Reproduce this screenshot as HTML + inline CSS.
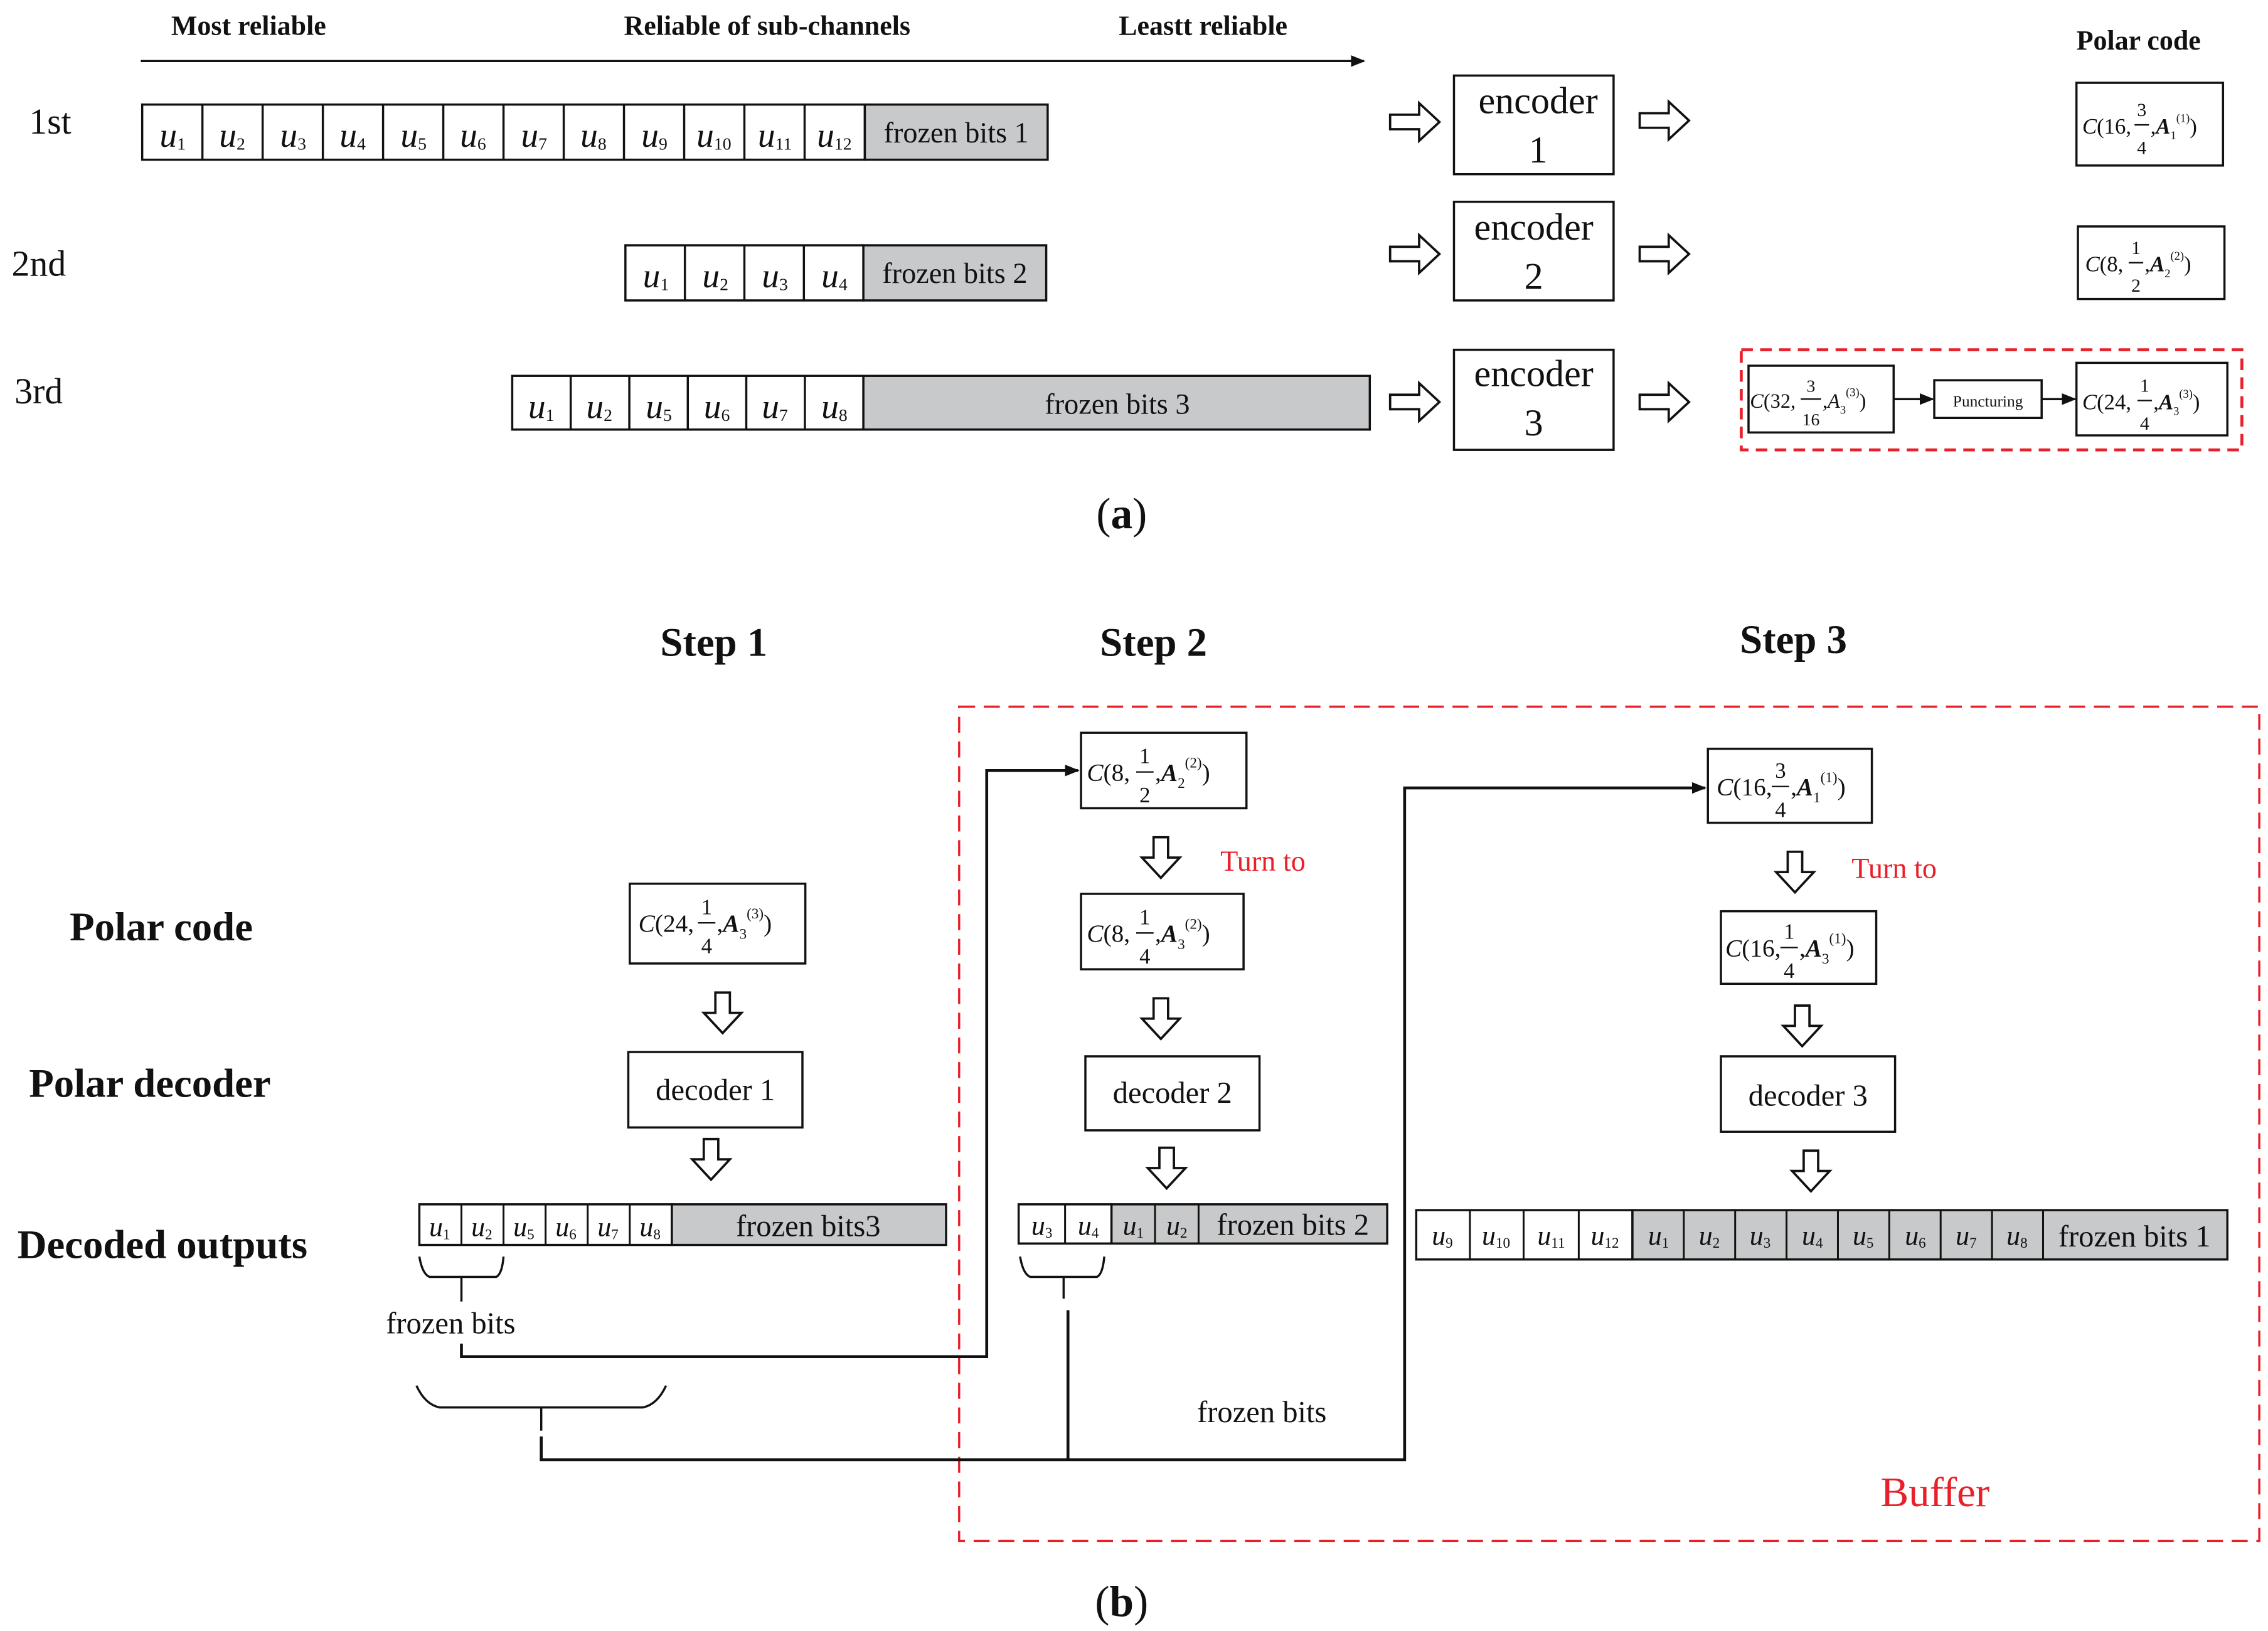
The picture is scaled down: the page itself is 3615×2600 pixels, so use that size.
<!DOCTYPE html>
<html><head><meta charset="utf-8"><style>
html,body{margin:0;padding:0;background:#fff}
svg{display:block}
text{font-family:"Liberation Serif",serif;fill:#111}
.b{font-family:"Liberation Serif",serif;font-weight:bold}
</style></head><body>
<svg width="3615" height="2600" viewBox="0 0 1563 1124" xmlns="http://www.w3.org/2000/svg">
<defs>
<marker id="ar" markerWidth="10" markerHeight="10" refX="9" refY="5" orient="auto" markerUnits="userSpaceOnUse"><path d="M0,1 L10,5 L0,9 z" fill="#111"/></marker>
<g id="ra"><polygon points="0,-5 20,-5 20,-13 34,0 20,13 20,5 0,5" fill="#fff" stroke="#111" stroke-width="1.6"/></g>
<g id="da"><polygon points="-5,0 5,0 5,14 13,14 0,28 -13,14 -5,14" fill="#fff" stroke="#111" stroke-width="1.6"/></g>
</defs>
<rect width="1563" height="1124" fill="#fff"/>

<text x="118" y="24" class="b" font-size="19">Most reliable</text>
<text x="430" y="24" class="b" font-size="19">Reliable of sub-channels</text>
<text x="771" y="24" class="b" font-size="19">Leastt reliable</text>
<line x1="97" y1="42" x2="940" y2="42" stroke="#111" stroke-width="1.5" marker-end="url(#ar)"/>
<text x="1431" y="34" class="b" font-size="19">Polar  code</text>
<text x="20" y="92" font-size="25">1st</text>
<text x="8" y="190" font-size="25">2nd</text>
<text x="10" y="278" font-size="25">3rd</text>

<g stroke="#111" stroke-width="1.5">
<rect x="98" y="72" width="498" height="38" fill="#fff"/>
<rect x="596" y="72" width="126" height="38" fill="#c8c9cb"/>
<line x1="139.5" y1="72" x2="139.5" y2="110"/><line x1="181" y1="72" x2="181" y2="110"/><line x1="222.5" y1="72" x2="222.5" y2="110"/><line x1="264" y1="72" x2="264" y2="110"/><line x1="305.5" y1="72" x2="305.5" y2="110"/><line x1="347" y1="72" x2="347" y2="110"/><line x1="388.5" y1="72" x2="388.5" y2="110"/><line x1="430" y1="72" x2="430" y2="110"/><line x1="471.5" y1="72" x2="471.5" y2="110"/><line x1="513" y1="72" x2="513" y2="110"/><line x1="554.5" y1="72" x2="554.5" y2="110"/>
<rect x="431" y="169" width="164" height="38" fill="#fff"/>
<rect x="595" y="169" width="126" height="38" fill="#c8c9cb"/>
<line x1="472" y1="169" x2="472" y2="207"/><line x1="513" y1="169" x2="513" y2="207"/><line x1="554" y1="169" x2="554" y2="207"/>
<rect x="353" y="259" width="242" height="37" fill="#fff"/>
<rect x="595" y="259" width="349" height="37" fill="#c8c9cb"/>
<line x1="393.3" y1="259" x2="393.3" y2="296"/><line x1="433.7" y1="259" x2="433.7" y2="296"/><line x1="474" y1="259" x2="474" y2="296"/><line x1="514.3" y1="259" x2="514.3" y2="296"/><line x1="554.7" y1="259" x2="554.7" y2="296"/>
<rect x="1002" y="52" width="110" height="68" fill="#fff"/>
<rect x="1002" y="139" width="110" height="68" fill="#fff"/>
<rect x="1002" y="241" width="110" height="69" fill="#fff"/>
<rect x="1431" y="57" width="101" height="57" fill="#fff"/>
<rect x="1432" y="156" width="101" height="50" fill="#fff"/>
<rect x="1205" y="252" width="100" height="46" fill="#fff"/>
<rect x="1333" y="262" width="74" height="26" fill="#fff"/>
<rect x="1431" y="250" width="104" height="50" fill="#fff"/>
<line x1="1305" y1="275" x2="1332" y2="275" marker-end="url(#ar)"/>
<line x1="1407" y1="275" x2="1430" y2="275" marker-end="url(#ar)"/>
</g>
<rect x="1200" y="241" width="345" height="69" fill="none" stroke="#e8202a" stroke-width="2" stroke-dasharray="8,5"/>

<g font-size="24">
<text x="119" y="101" text-anchor="middle"><tspan font-style="italic">u</tspan><tspan font-size="12" dy="2">1</tspan></text>
<text x="160" y="101" text-anchor="middle"><tspan font-style="italic">u</tspan><tspan font-size="12" dy="2">2</tspan></text>
<text x="202" y="101" text-anchor="middle"><tspan font-style="italic">u</tspan><tspan font-size="12" dy="2">3</tspan></text>
<text x="243" y="101" text-anchor="middle"><tspan font-style="italic">u</tspan><tspan font-size="12" dy="2">4</tspan></text>
<text x="285" y="101" text-anchor="middle"><tspan font-style="italic">u</tspan><tspan font-size="12" dy="2">5</tspan></text>
<text x="326" y="101" text-anchor="middle"><tspan font-style="italic">u</tspan><tspan font-size="12" dy="2">6</tspan></text>
<text x="368" y="101" text-anchor="middle"><tspan font-style="italic">u</tspan><tspan font-size="12" dy="2">7</tspan></text>
<text x="409" y="101" text-anchor="middle"><tspan font-style="italic">u</tspan><tspan font-size="12" dy="2">8</tspan></text>
<text x="451" y="101" text-anchor="middle"><tspan font-style="italic">u</tspan><tspan font-size="12" dy="2">9</tspan></text>
<text x="492" y="101" text-anchor="middle"><tspan font-style="italic">u</tspan><tspan font-size="12" dy="2">10</tspan></text>
<text x="534" y="101" text-anchor="middle"><tspan font-style="italic">u</tspan><tspan font-size="12" dy="2">11</tspan></text>
<text x="575" y="101" text-anchor="middle"><tspan font-style="italic">u</tspan><tspan font-size="12" dy="2">12</tspan></text>
<text x="452" y="198" text-anchor="middle"><tspan font-style="italic">u</tspan><tspan font-size="12" dy="2">1</tspan></text>
<text x="493" y="198" text-anchor="middle"><tspan font-style="italic">u</tspan><tspan font-size="12" dy="2">2</tspan></text>
<text x="534" y="198" text-anchor="middle"><tspan font-style="italic">u</tspan><tspan font-size="12" dy="2">3</tspan></text>
<text x="575" y="198" text-anchor="middle"><tspan font-style="italic">u</tspan><tspan font-size="12" dy="2">4</tspan></text>
<text x="373" y="288" text-anchor="middle"><tspan font-style="italic">u</tspan><tspan font-size="12" dy="2">1</tspan></text>
<text x="413" y="288" text-anchor="middle"><tspan font-style="italic">u</tspan><tspan font-size="12" dy="2">2</tspan></text>
<text x="454" y="288" text-anchor="middle"><tspan font-style="italic">u</tspan><tspan font-size="12" dy="2">5</tspan></text>
<text x="494" y="288" text-anchor="middle"><tspan font-style="italic">u</tspan><tspan font-size="12" dy="2">6</tspan></text>
<text x="534" y="288" text-anchor="middle"><tspan font-style="italic">u</tspan><tspan font-size="12" dy="2">7</tspan></text>
<text x="575" y="288" text-anchor="middle"><tspan font-style="italic">u</tspan><tspan font-size="12" dy="2">8</tspan></text>
</g>
<text x="659" y="98" font-size="20" text-anchor="middle">frozen bits 1</text>
<text x="658" y="195" font-size="20" text-anchor="middle">frozen bits 2</text>
<text x="770" y="285" font-size="20" text-anchor="middle">frozen bits 3</text>

<g font-size="26" text-anchor="middle">
<text x="1060" y="78">encoder</text><text x="1060" y="112">1</text>
<text x="1057" y="165">encoder</text><text x="1057" y="199">2</text>
<text x="1057" y="266">encoder</text><text x="1057" y="300">3</text>
</g>
<use href="#ra" x="958" y="84"/><use href="#ra" x="1130" y="83"/>
<use href="#ra" x="958" y="175"/><use href="#ra" x="1130" y="175"/>
<use href="#ra" x="958" y="277"/><use href="#ra" x="1130" y="277"/>

<g font-size="15">
<text x="1435" y="92"><tspan font-style="italic">C</tspan>(16,</text>
<text x="1476" y="80" text-anchor="middle" font-size="13">3</text><line x1="1471" y1="86" x2="1481" y2="86" stroke="#111"/><text x="1476" y="106" text-anchor="middle" font-size="13">4</text>
<text x="1482" y="92">,<tspan font-weight="bold" font-style="italic">A</tspan><tspan font-size="8" dy="4">1</tspan><tspan font-size="8" dy="-12">(1)</tspan><tspan dy="8">)</tspan></text>

<text x="1437" y="187"><tspan font-style="italic">C</tspan>(8,</text>
<text x="1472" y="175" text-anchor="middle" font-size="13">1</text><line x1="1467" y1="181" x2="1477" y2="181" stroke="#111"/><text x="1472" y="201" text-anchor="middle" font-size="13">2</text>
<text x="1478" y="187">,<tspan font-weight="bold" font-style="italic">A</tspan><tspan font-size="8" dy="4">2</tspan><tspan font-size="8" dy="-12">(2)</tspan><tspan dy="8">)</tspan></text>

<text x="1206" y="281" font-size="14"><tspan font-style="italic">C</tspan>(32,</text>
<text x="1248" y="270" text-anchor="middle" font-size="12">3</text><line x1="1241" y1="275" x2="1255" y2="275" stroke="#111"/><text x="1248" y="293" text-anchor="middle" font-size="12">16</text>
<text x="1256" y="281" font-size="14">,<tspan font-style="italic">A</tspan><tspan font-size="8" dy="4">3</tspan><tspan font-size="8" dy="-12">(3)</tspan><tspan dy="8">)</tspan></text>
<text x="1370" y="280" text-anchor="middle" font-size="11">Puncturing</text>
<text x="1435" y="282"><tspan font-style="italic">C</tspan>(24,</text>
<text x="1478" y="270" text-anchor="middle" font-size="13">1</text><line x1="1473" y1="276" x2="1483" y2="276" stroke="#111"/><text x="1478" y="296" text-anchor="middle" font-size="13">4</text>
<text x="1484" y="282">,<tspan font-weight="bold" font-style="italic">A</tspan><tspan font-size="8" dy="4">3</tspan><tspan font-size="8" dy="-12">(3)</tspan><tspan dy="8">)</tspan></text>
</g>
<text x="773" y="364" font-size="30" text-anchor="middle">(<tspan font-weight="bold">a</tspan>)</text>

<text x="455" y="452" class="b" font-size="28">Step 1</text>
<text x="758" y="452" class="b" font-size="28">Step 2</text>
<text x="1199" y="450" class="b" font-size="28">Step 3</text>
<text x="48" y="648" class="b" font-size="28">Polar code</text>
<text x="20" y="756" class="b" font-size="28">Polar decoder</text>
<text x="12" y="867" class="b" font-size="28">Decoded outputs</text>
<rect x="661" y="487" width="896" height="575" fill="none" stroke="#e8202a" stroke-width="1.5" stroke-dasharray="11,6"/>
<text x="1296" y="1038" font-size="29" style="fill:#e8202a">Buffer</text>

<g stroke="#111" stroke-width="1.5" fill="#fff">
<rect x="434" y="609" width="121" height="55"/>
<rect x="433" y="725" width="120" height="52"/>
<rect x="289" y="830" width="174" height="28"/>
<rect x="463" y="830" width="189" height="28" fill="#c8c9cb"/>
<rect x="745" y="505" width="114" height="52"/>
<rect x="745" y="616" width="112" height="52"/>
<rect x="748" y="728" width="120" height="51"/>
<rect x="702" y="830" width="64" height="27"/>
<rect x="766" y="830" width="190" height="27" fill="#c8c9cb"/>
<rect x="1177" y="516" width="113" height="51"/>
<rect x="1186" y="628" width="107" height="50"/>
<rect x="1186" y="728" width="120" height="52"/>
<rect x="976" y="834" width="149" height="34"/>
<rect x="1125" y="834" width="410" height="34" fill="#c8c9cb"/>
</g>
<g stroke="#111" stroke-width="1.3">
<line x1="318" y1="830" x2="318" y2="858"/><line x1="347" y1="830" x2="347" y2="858"/><line x1="376" y1="830" x2="376" y2="858"/><line x1="405" y1="830" x2="405" y2="858"/><line x1="434" y1="830" x2="434" y2="858"/>
<line x1="734" y1="830" x2="734" y2="857"/><line x1="796" y1="830" x2="796" y2="857"/><line x1="826" y1="830" x2="826" y2="857"/>
<line x1="1013" y1="834" x2="1013" y2="868"/><line x1="1050" y1="834" x2="1050" y2="868"/><line x1="1088" y1="834" x2="1088" y2="868"/>
<line x1="1160.4" y1="834" x2="1160.4" y2="868"/><line x1="1195.8" y1="834" x2="1195.8" y2="868"/><line x1="1231.2" y1="834" x2="1231.2" y2="868"/><line x1="1266.6" y1="834" x2="1266.6" y2="868"/><line x1="1302" y1="834" x2="1302" y2="868"/><line x1="1337.4" y1="834" x2="1337.4" y2="868"/><line x1="1372.8" y1="834" x2="1372.8" y2="868"/><line x1="1408" y1="834" x2="1408" y2="868"/>
</g>
<g font-size="19">
<text x="303" y="852" text-anchor="middle"><tspan font-style="italic">u</tspan><tspan font-size="10" dy="2">1</tspan></text>
<text x="332" y="852" text-anchor="middle"><tspan font-style="italic">u</tspan><tspan font-size="10" dy="2">2</tspan></text>
<text x="361" y="852" text-anchor="middle"><tspan font-style="italic">u</tspan><tspan font-size="10" dy="2">5</tspan></text>
<text x="390" y="852" text-anchor="middle"><tspan font-style="italic">u</tspan><tspan font-size="10" dy="2">6</tspan></text>
<text x="419" y="852" text-anchor="middle"><tspan font-style="italic">u</tspan><tspan font-size="10" dy="2">7</tspan></text>
<text x="448" y="852" text-anchor="middle"><tspan font-style="italic">u</tspan><tspan font-size="10" dy="2">8</tspan></text>
<text x="718" y="851" text-anchor="middle"><tspan font-style="italic">u</tspan><tspan font-size="10" dy="2">3</tspan></text>
<text x="750" y="851" text-anchor="middle"><tspan font-style="italic">u</tspan><tspan font-size="10" dy="2">4</tspan></text>
<text x="781" y="851" text-anchor="middle"><tspan font-style="italic">u</tspan><tspan font-size="10" dy="2">1</tspan></text>
<text x="811" y="851" text-anchor="middle"><tspan font-style="italic">u</tspan><tspan font-size="10" dy="2">2</tspan></text>
<text x="994" y="858" text-anchor="middle"><tspan font-style="italic">u</tspan><tspan font-size="10" dy="2">9</tspan></text>
<text x="1031" y="858" text-anchor="middle"><tspan font-style="italic">u</tspan><tspan font-size="10" dy="2">10</tspan></text>
<text x="1069" y="858" text-anchor="middle"><tspan font-style="italic">u</tspan><tspan font-size="10" dy="2">11</tspan></text>
<text x="1106" y="858" text-anchor="middle"><tspan font-style="italic">u</tspan><tspan font-size="10" dy="2">12</tspan></text>
<text x="1143" y="858" text-anchor="middle"><tspan font-style="italic">u</tspan><tspan font-size="10" dy="2">1</tspan></text>
<text x="1178" y="858" text-anchor="middle"><tspan font-style="italic">u</tspan><tspan font-size="10" dy="2">2</tspan></text>
<text x="1213" y="858" text-anchor="middle"><tspan font-style="italic">u</tspan><tspan font-size="10" dy="2">3</tspan></text>
<text x="1249" y="858" text-anchor="middle"><tspan font-style="italic">u</tspan><tspan font-size="10" dy="2">4</tspan></text>
<text x="1284" y="858" text-anchor="middle"><tspan font-style="italic">u</tspan><tspan font-size="10" dy="2">5</tspan></text>
<text x="1320" y="858" text-anchor="middle"><tspan font-style="italic">u</tspan><tspan font-size="10" dy="2">6</tspan></text>
<text x="1355" y="858" text-anchor="middle"><tspan font-style="italic">u</tspan><tspan font-size="10" dy="2">7</tspan></text>
<text x="1390" y="858" text-anchor="middle"><tspan font-style="italic">u</tspan><tspan font-size="10" dy="2">8</tspan></text>
</g>
<text x="557" y="852" font-size="21" text-anchor="middle">frozen bits3</text>
<text x="891" y="851" font-size="21" text-anchor="middle">frozen bits 2</text>
<text x="1471" y="859" font-size="21" text-anchor="middle">frozen bits 1</text>
<text x="493" y="758" font-size="21" text-anchor="middle">decoder 1</text>
<text x="808" y="760" font-size="21" text-anchor="middle">decoder 2</text>
<text x="1246" y="762" font-size="21" text-anchor="middle">decoder 3</text>
<text x="841" y="600" font-size="20" style="fill:#e8202a">Turn to</text>
<text x="1276" y="605" font-size="20" style="fill:#e8202a">Turn to</text>
<text x="266" y="919" font-size="21">frozen bits</text>
<text x="825" y="980" font-size="21">frozen bits</text>

<use href="#da" x="498" y="684"/><use href="#da" x="490" y="785"/>
<use href="#da" x="800" y="577"/><use href="#da" x="800" y="688"/><use href="#da" x="804" y="791"/>
<use href="#da" x="1237" y="587"/><use href="#da" x="1242" y="693"/><use href="#da" x="1248" y="793"/>

<g fill="none" stroke="#111" stroke-width="1.5">
<path d="M289,866 Q291,878 296,880 L342,880 Q346,878 347,866"/>
<line x1="318" y1="880" x2="318" y2="897"/>
<path d="M703,866 Q705,878 710,880 L756,880 Q760,878 761,866"/>
<line x1="733" y1="880" x2="733" y2="895"/>
<path d="M287,955 Q293,968 303,970 L443,970 Q453,968 459,955"/>
<line x1="373" y1="970" x2="373" y2="986"/>
<path d="M318,926 L318,935 L680,935 L680,531 L743,531" stroke-width="2" marker-end="url(#ar)"/>
<path d="M373,990 L373,1006 L968,1006 L968,543 L1175,543" stroke-width="2" marker-end="url(#ar)"/>
<line x1="736" y1="903" x2="736" y2="1006" stroke-width="2"/>
</g>

<g font-size="17">
<text x="440" y="642"><tspan font-style="italic">C</tspan>(24,</text>
<text x="487" y="630" text-anchor="middle" font-size="15">1</text><line x1="481" y1="636" x2="493" y2="636" stroke="#111"/><text x="487" y="657" text-anchor="middle" font-size="15">4</text>
<text x="494" y="642">,<tspan font-weight="bold" font-style="italic">A</tspan><tspan font-size="10" dy="5">3</tspan><tspan font-size="10" dy="-14">(3)</tspan><tspan dy="9">)</tspan></text>

<text x="749" y="538"><tspan font-style="italic">C</tspan>(8,</text>
<text x="789" y="526" text-anchor="middle" font-size="15">1</text><line x1="783" y1="532" x2="795" y2="532" stroke="#111"/><text x="789" y="553" text-anchor="middle" font-size="15">2</text>
<text x="796" y="538">,<tspan font-weight="bold" font-style="italic">A</tspan><tspan font-size="10" dy="5">2</tspan><tspan font-size="10" dy="-14">(2)</tspan><tspan dy="9">)</tspan></text>

<text x="749" y="649"><tspan font-style="italic">C</tspan>(8,</text>
<text x="789" y="637" text-anchor="middle" font-size="15">1</text><line x1="783" y1="643" x2="795" y2="643" stroke="#111"/><text x="789" y="664" text-anchor="middle" font-size="15">4</text>
<text x="796" y="649">,<tspan font-weight="bold" font-style="italic">A</tspan><tspan font-size="10" dy="5">3</tspan><tspan font-size="10" dy="-14">(2)</tspan><tspan dy="9">)</tspan></text>

<text x="1183" y="548"><tspan font-style="italic">C</tspan>(16,</text>
<text x="1227" y="536" text-anchor="middle" font-size="15">3</text><line x1="1221" y1="542" x2="1233" y2="542" stroke="#111"/><text x="1227" y="563" text-anchor="middle" font-size="15">4</text>
<text x="1234" y="548">,<tspan font-weight="bold" font-style="italic">A</tspan><tspan font-size="10" dy="5">1</tspan><tspan font-size="10" dy="-14">(1)</tspan><tspan dy="9">)</tspan></text>

<text x="1189" y="659"><tspan font-style="italic">C</tspan>(16,</text>
<text x="1233" y="647" text-anchor="middle" font-size="15">1</text><line x1="1227" y1="653" x2="1239" y2="653" stroke="#111"/><text x="1233" y="674" text-anchor="middle" font-size="15">4</text>
<text x="1240" y="659">,<tspan font-weight="bold" font-style="italic">A</tspan><tspan font-size="10" dy="5">3</tspan><tspan font-size="10" dy="-14">(1)</tspan><tspan dy="9">)</tspan></text>
</g>
<text x="773" y="1114" font-size="30" text-anchor="middle">(<tspan font-weight="bold">b</tspan>)</text>
</svg>
</body></html>
